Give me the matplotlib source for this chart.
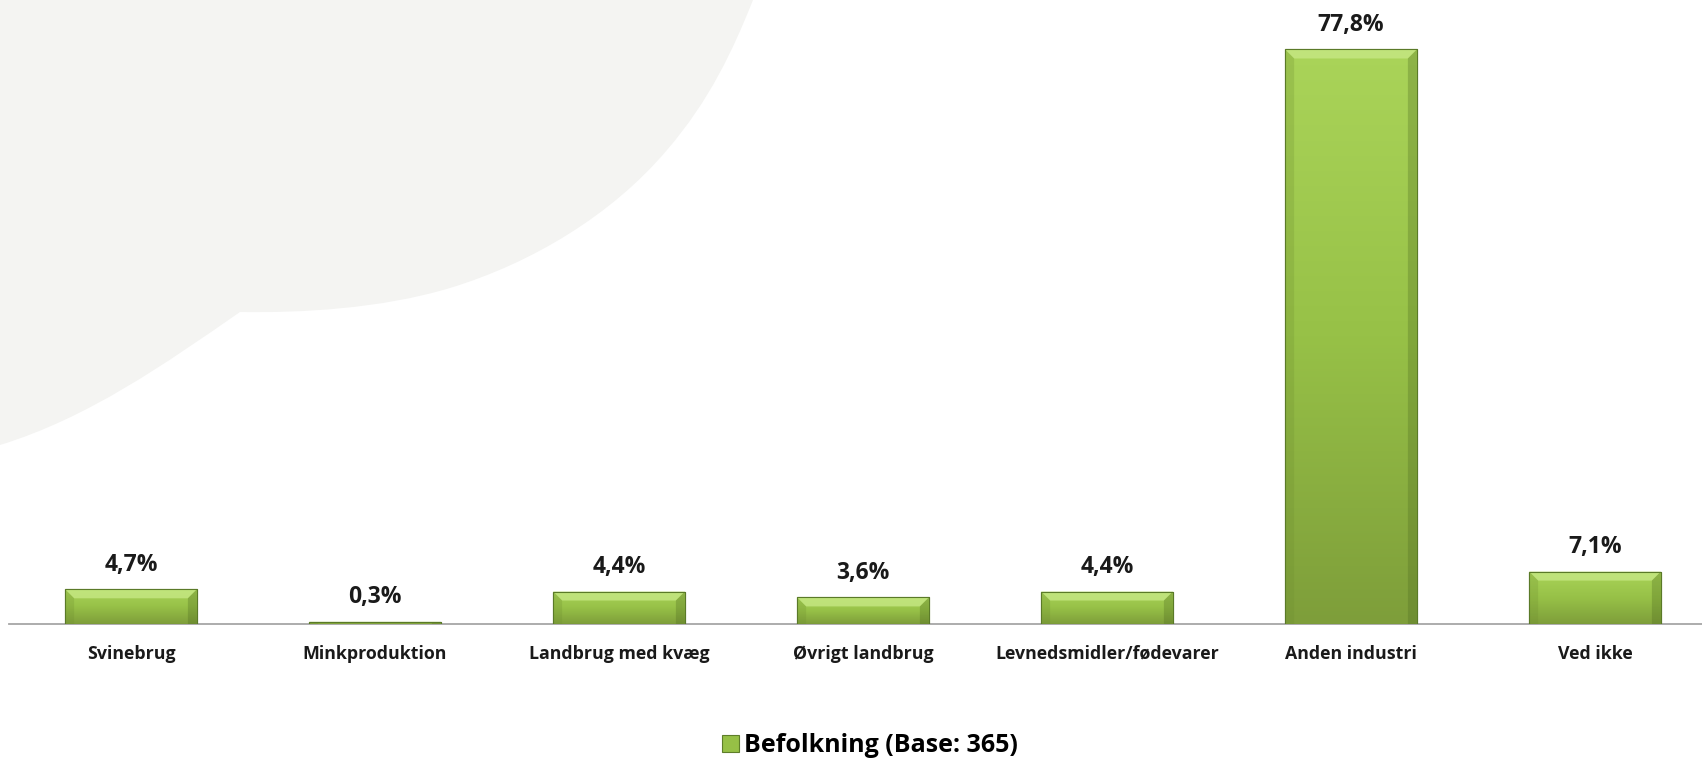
import matplotlib
matplotlib.use("Agg")
import matplotlib.pyplot as plt
import numpy as np
from matplotlib.path import Path
from matplotlib.patches import PathPatch, Patch, Polygon
from matplotlib.colors import LinearSegmentedColormap

categories = ["Svinebrug", "Minkproduktion", "Landbrug med kvæg", "Øvrigt landbrug",
              "Levnedsmidler/fødevarer", "Anden industri", "Ved ikke"]
values = [4.7, 0.3, 4.4, 3.6, 4.4, 77.8, 7.1]
labels = ["4,7%", "0,3%", "4,4%", "3,6%", "4,4%", "77,8%", "7,1%"]
series_name = "Befolkning (Base: 365)"

W, H = 1702, 761
plt.rcParams['font.family'] = ['Open Sans', 'DejaVu Sans']

fig = plt.figure(figsize=(W / 100, H / 100), dpi=100)
fig.patch.set_facecolor("white")

# light grey speech-bubble shape in the background (pixel coords -> figure coords)
def P(x, y):
    return (x / W, 1 - y / H)

verts = [P(0, 0), P(753, 0),
         P(733, 50), P(710, 100), P(667, 150),
         P(612, 215), P(532, 263), P(450, 288),
         P(380, 309), P(300, 313), P(240, 312),
         P(165, 364), P(88, 418), P(0, 445),
         P(0, 0)]
codes = [Path.MOVETO, Path.LINETO,
         Path.CURVE4, Path.CURVE4, Path.CURVE4,
         Path.CURVE4, Path.CURVE4, Path.CURVE4,
         Path.CURVE4, Path.CURVE4, Path.CURVE4,
         Path.CURVE4, Path.CURVE4, Path.CURVE4,
         Path.CLOSEPOLY]
bubble = PathPatch(Path(verts, codes), transform=fig.transFigure,
                   facecolor="#F4F4F2", edgecolor="none", zorder=0)
fig.patches.append(bubble)

# plot area runs slightly past the right edge of the picture
ax = fig.add_axes([9 / W, (H - 624) / H, 1708 / W, 624 / H])
ax.set_facecolor("none")

x = np.arange(len(categories))
width = 0.54
bars = ax.bar(x, values, width=width, color="#8DB843", edgecolor="#5E7E2A",
              linewidth=0.8, zorder=2)

# light at the top, darker at the bottom
cmap = LinearSegmentedColormap.from_list("grn", ["#AAD459", "#97C147", "#7E9E3A"])
grad = np.linspace(0, 1, 256).reshape(-1, 1)
ymax = 84.5
px_y = ymax / 624.0
px_x = 1.0 / 244.0
for b in bars:
    x0 = b.get_x()
    x1 = x0 + b.get_width()
    h = b.get_height()
    im = ax.imshow(grad, extent=[x0, x1, 0, h], aspect="auto", cmap=cmap,
                   zorder=2.1, interpolation="bilinear")
    im.set_clip_path(b)
    bev_y = min(9 * px_y, h * 0.4)
    bev_x = 9 * px_x
    ax.add_patch(Polygon([(x0, h), (x1, h), (x1 - bev_x, h - bev_y), (x0 + bev_x, h - bev_y)],
                         closed=True, facecolor="#C6E884", edgecolor="none",
                         alpha=0.8, zorder=2.2))
    ax.add_patch(Polygon([(x0, h), (x0 + bev_x, h - bev_y), (x0 + bev_x, 0), (x0, 0)],
                         closed=True, facecolor="#6E8E30", edgecolor="none",
                         alpha=0.25, zorder=2.2))
    ax.add_patch(Polygon([(x1, h), (x1 - bev_x, h - bev_y), (x1 - bev_x, 0), (x1, 0)],
                         closed=True, facecolor="#4E6A20", edgecolor="none",
                         alpha=0.3, zorder=2.2))
    ax.add_patch(plt.Rectangle((x0, 0), x1 - x0, h, fill=False,
                               edgecolor="#5A7A28", linewidth=0.8, zorder=2.3))

for xi, v, lab in zip(x, values, labels):
    ax.annotate(lab, (xi, v), xytext=(0, 9), textcoords="offset points",
                ha="center", va="bottom", fontsize=16.5, fontweight="bold",
                color="#1A1A1A")

ax.set_xlim(-0.5, len(categories) - 0.5)
ax.set_ylim(0, ymax)
ax.set_xticks(x)
ax.set_xticklabels(categories, fontsize=12.8, fontweight="bold", color="#1A1A1A")
ax.tick_params(axis="x", length=0, pad=15)
ax.set_yticks([])
for s in ["top", "right", "left"]:
    ax.spines[s].set_visible(False)
ax.spines["bottom"].set_color("#A6A6A6")
ax.spines["bottom"].set_linewidth(1.3)
ax.spines["bottom"].set_zorder(1.5)

handle = Patch(facecolor="#96C046", edgecolor="#5E7E2A", linewidth=0.8)
fig.legend([handle], [series_name], loc="center", bbox_to_anchor=(0.511, 0.02),
           frameon=False, prop={"weight": "bold", "size": 18},
           handlelength=0.7, handleheight=0.7, handletextpad=0.2)

fig.savefig("out.png", dpi=100, facecolor="white")
